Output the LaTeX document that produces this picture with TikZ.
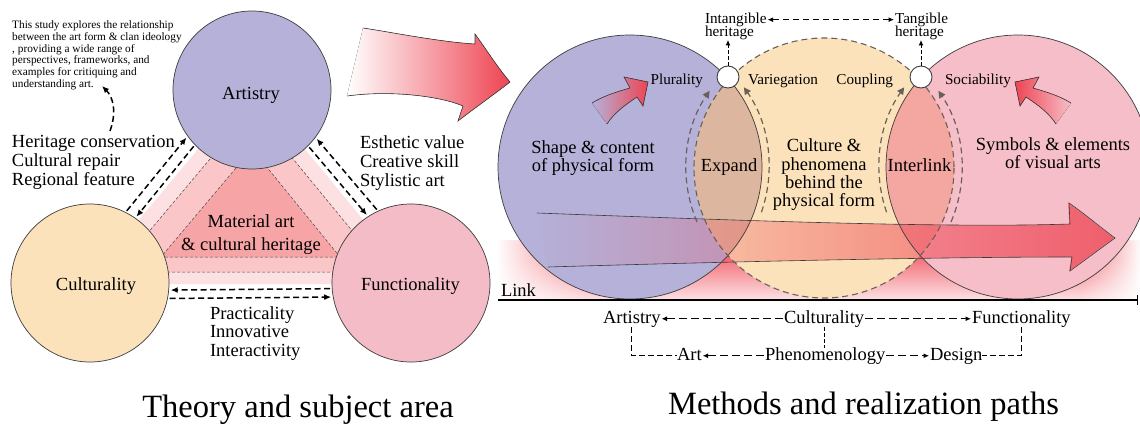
\documentclass[tikz,border=0pt]{standalone}
\usepackage{fontspec}
\setmainfont{Liberation Serif}
\usetikzlibrary{arrows.meta,fadings,calc}
\definecolor{cPur}{RGB}{181,177,217}
\definecolor{cOra}{RGB}{252,226,187}
\definecolor{cPnk}{RGB}{246,190,200}
\definecolor{cExp}{RGB}{221,182,160}
\definecolor{cInt}{RGB}{244,166,160}
\definecolor{cFun}{RGB}{244,188,198}
\definecolor{bandA}{RGB}{253,224,225}
\definecolor{bandB}{RGB}{250,198,199}
\definecolor{bandC}{RGB}{247,164,167}
\definecolor{aRed}{RGB}{238,68,82}
\definecolor{dashG}{RGB}{105,96,88}
\definecolor{glowR}{RGB}{242,96,106}
\definecolor{glowL}{RGB}{252,226,229}
\definecolor{edgeC}{RGB}{60,60,60}
\tikzfading[name=fadeR, left color=transparent!100, right color=transparent!0]
\tikzfading[name=fadeL, left color=transparent!0, right color=transparent!100]
\pgfdeclareverticalshading{glowsh}{100bp}{color(0bp)=(glowL); color(25bp)=(glowL); color(58bp)=(glowR!85!white); color(72bp)=(glowR); color(100bp)=(white)}
\begin{document}
\begin{tikzpicture}[x=1pt,y=-1pt,
  txt/.style={font=\fontsize{18.5}{19}\selectfont, inner sep=0pt, outer sep=0pt},
  sml/.style={font=\fontsize{15.2}{13.4}\selectfont, inner sep=0pt, outer sep=0pt},
  captxt/.style={font=\fontsize{32.5}{34}\selectfont, inner sep=0pt},
  para/.style={font=\fontsize{11.3}{11.7}\selectfont, inner sep=0pt, align=left},
  bot/.style={txt, text height=12.5pt, text depth=4pt},
  thickdash/.style={line width=1.5pt, dash pattern=on 6pt off 3.5pt, black},
  tipk/.style={-{Latex[length=7pt,width=6pt]}},
  tipb/.style={-{Latex[length=5.5pt,width=5pt]}},
  botdash/.style={line width=1pt, dash pattern=on 8pt off 4pt, black},
  banddash/.style={line width=0.5pt, dash pattern=on 3pt off 2pt, draw=black!70},
  arcdash/.style={line width=1.2pt, dash pattern=on 6pt off 4pt, dashG, -{Triangle[length=7pt,width=7pt]}},
  rim/.style={line width=0.7pt, draw=edgeC},
  bigc/.style={circle, minimum size=158pt, inner sep=0pt, outer sep=2pt, rim},
]
\useasboundingbox (0,0) rectangle (1140,423);
\fill[white] (0,0) rectangle (1140,423);

% ---------------- left part ----------------
\fill[bandA] (252,85) -- (85,284) -- (416,284) -- cycle;
\filldraw[fill=bandB, banddash] (252,109) -- (115,272) -- (386,272) -- cycle;
\filldraw[fill=bandC, banddash] (252,149) -- (161,257) -- (340,257) -- cycle;

\node[bigc, fill=cPur] (A) at (252,90) {};
\node[bigc, fill=cOra] (C) at (90,283) {};
\node[bigc, fill=cFun] (F) at (411,283) {};

\node[txt, anchor=base] (Alab) at (251,99.3) {Artistry};
\node[txt, anchor=base] (Clab) at (96,290.7) {Culturality};
\node[txt, anchor=base] (Flab) at (410.5,290.7) {Functionality};

\node[txt, align=center, anchor=north, font=\fontsize{18.5}{22.5}\selectfont] (mat) at (251,214.7) {Material art\\\& cultural heritage};
\node[txt, align=left, anchor=north west] (her) at (12,135.5) {Heritage conservation\\Cultural repair\\Regional feature};
\node[txt, align=left, anchor=north west] (est) at (360,135.5) {Esthetic value\\Creative skill\\Stylistic art};
\node[txt, align=left, anchor=north west, font=\fontsize{18.5}{18.5}\selectfont] (pra) at (210,306.4) {Practicality\\Innovative\\Interactivity};
\node[para, anchor=north west] (par) at (12,20.8) {This study explores the relationship\\between the art form \& clan ideology\\, providing a wide range of\\perspectives, frameworks, and\\examples for critiquing and\\understanding art.};

\draw[thickdash, tipk] (C.63.6) -- (A.216.4);
\draw[thickdash, tipk] (A.224.4) -- (C.55.6);
\draw[thickdash, tipk] (F.115.9) -- (A.323.1);
\draw[thickdash, tipk] (A.315.2) -- (F.123.8);
\draw[thickdash, tipk] (F.184.2) -- (C.355.8);
\draw[thickdash, tipk] (C.349.3) -- (F.190.7);

\coordinate (hcS) at (110,131);
\coordinate (hcE) at (102,86);
\draw[thickdash, tipk] (hcS) .. controls (117,112) and (113,97) .. (hcE);

\node[captxt, anchor=base] (cap1) at (298,417) {Theory and subject area};

% ---------------- connecting arrow ----------------
\fill[left color=white, right color=aRed]
  (363,28) .. controls (390,32) and (440,42) .. (475,44) -- (475,34)
  .. controls (488,52) and (498,68) .. (510,82)
  .. controls (492,96) and (472,110) .. (458,121) -- (463,106)
  .. controls (440,96) and (390,90) .. (347,96) -- cycle;
\draw[rim, line width=0.6pt]
  (363,28) .. controls (390,32) and (440,42) .. (475,44) -- (475,34)
  .. controls (488,52) and (498,68) .. (510,82)
  .. controls (492,96) and (472,110) .. (458,121) -- (463,106)
  .. controls (440,96) and (390,90) .. (347,96);

% ---------------- right part ----------------
\coordinate (pc) at (630,167);
\coordinate (oc) at (824,168);
\coordinate (kc) at (1018,167);

\fill[shading=glowsh] (498,240) rectangle (1140,300);
\fill[white, path fading=fadeL] (497,238) rectangle (592,301);
\fill[white, path fading=fadeR] (1080,238) rectangle (1141,301);

\fill[cPur] (pc) circle[radius=132];
\fill[cPnk] (kc) circle[radius=132];
\fill[cOra] (oc) circle[radius=130];
\begin{scope}
  \clip (pc) circle[radius=132];
  \fill[cExp] (oc) circle[radius=130];
\end{scope}
\begin{scope}
  \clip (kc) circle[radius=132];
  \fill[cInt] (oc) circle[radius=130];
\end{scope}

% big horizontal arrow
\fill[aRed, path fading=fadeR, fill opacity=0.78]
  (537,213) .. controls (750,221) and (950,228) .. (1070,224) -- (1069,203)
  .. controls (1085,214) and (1100,227) .. (1115,238)
  .. controls (1100,249) and (1085,260) .. (1070,271) -- (1072,257)
  .. controls (950,257) and (750,261) .. (548,267) -- cycle;
\draw[rim, line width=0.6pt]
  (537,213) .. controls (750,221) and (950,228) .. (1070,224) -- (1069,203)
  .. controls (1085,214) and (1100,227) .. (1115,238)
  .. controls (1100,249) and (1085,260) .. (1070,271) -- (1072,257)
  .. controls (950,257) and (750,261) .. (548,267);

\draw[rim] (pc) circle[radius=132];
\draw[rim] (kc) circle[radius=132];
\draw[dashG, line width=1.1pt, dash pattern=on 6pt off 4pt] (oc) circle[radius=130];

\draw[arcdash] ($(oc)+(-203:138)$) arc[start angle=-203, end angle=-146, radius=138];
\draw[arcdash] ($(pc)+(19:139)$) arc[start angle=19, end angle=-35, radius=139];
\draw[arcdash] ($(kc)+(-199:139)$) arc[start angle=-199, end angle=-145, radius=139];
\draw[arcdash] ($(oc)+(23:138)$) arc[start angle=23, end angle=-34, radius=138];

% small curved arrows
\fill[left color=cPur, right color=aRed]
  (592,103) .. controls (605,95) and (620,91) .. (630,88) -- (624,77) -- (648,82) -- (643,106) -- (637,97)
  .. controls (625,105) and (614,113) .. (607,124) -- cycle;
\draw[rim, line width=0.6pt]
  (592,103) .. controls (605,95) and (620,91) .. (630,88) -- (624,77) -- (648,82) -- (643,106) -- (637,97)
  .. controls (625,105) and (614,113) .. (607,124);
\fill[left color=aRed, right color=cPnk]
  (1071,103) .. controls (1058,95) and (1043,91) .. (1033,88) -- (1039,77) -- (1015,82) -- (1020,106) -- (1026,97)
  .. controls (1038,105) and (1049,113) .. (1056,124) -- cycle;
\draw[rim, line width=0.6pt]
  (1071,103) .. controls (1058,95) and (1043,91) .. (1033,88) -- (1039,77) -- (1015,82) -- (1020,106) -- (1026,97)
  .. controls (1038,105) and (1049,113) .. (1056,124);

\node[circle, draw=edgeC, fill=white, line width=0.9pt, minimum size=22pt, inner sep=0pt] (w1) at (728,77) {};
\node[circle, draw=edgeC, fill=white, line width=0.9pt, minimum size=22pt, inner sep=0pt] (w2) at (921,77) {};

\node[sml, anchor=base east] (plu) at (703,84) {Plurality};
\node[sml, anchor=base west] (var) at (748,84) {Variegation};
\node[sml, anchor=base east] (cou) at (893,84) {Coupling};
\node[sml, anchor=base west] (soc) at (945,84) {Sociability};
\node[sml, anchor=base west] (ih1) at (705,23.3) {Intangible};
\node[sml, anchor=base west] (ih2) at (705,36.7) {heritage};
\node[sml, anchor=base west] (th1) at (895,23.3) {Tangible};
\node[sml, anchor=base west] (th2) at (895,36.7) {heritage};

\draw[line width=1pt, dash pattern=on 4pt off 2pt, tipb] (w1.north) -- (w1.north |- ih2.south);
\draw[line width=1pt, dash pattern=on 4pt off 2pt, tipb] (w2.north) -- (w2.north |- th2.south);
\draw[line width=1pt, dash pattern=on 6pt off 4pt, {Latex[length=5.5pt,width=5pt]}-{Latex[length=5.5pt,width=5pt]}, shorten <=1pt, shorten >=1pt] (ih1.east) -- (th1.west);

\node[txt, align=center, anchor=north, font=\fontsize{18.5}{18.4}\selectfont] (shp) at (593,140.7) {Shape \& content\\of physical form};
\node[txt, anchor=base] (exp) at (729,171.7) {Expand};
\node[txt, align=center, anchor=north, font=\fontsize{18.5}{18.3}\selectfont] (cul) at (824,139.1) {Culture \&\\phenomena\\behind the\\physical form};
\node[txt, anchor=base] (itl) at (919.5,171.7) {Interlink};
\node[txt, align=center, anchor=north, font=\fontsize{18.5}{18.4}\selectfont] (sym) at (1053,137.4) {Symbols \& elements\\of visual arts};

% axis
\coordinate (axL) at (498,300);
\coordinate (axR) at (1138,300);
\draw[line width=1.4pt, -{Bar[width=10pt]}] (axL) -- (axR);
\node[txt, anchor=base west] (lnk) at (501,296) {Link};

\node[bot, anchor=base west] (bA) at (603,323) {Artistry};
\node[bot, anchor=base west] (bC) at (784,323) {Culturality};
\node[bot, anchor=base west] (bF) at (972,323) {Functionality};
\node[bot, anchor=base west] (bArt) at (677,360) {Art};
\node[bot, anchor=base west] (bPh) at (765,360) {Phenomenology};
\node[bot, anchor=base west] (bDe) at (930,360) {Design};

\draw[botdash, tipb, shorten >=1pt, shorten <=1pt] (bC.west) -- (bA.east);
\draw[botdash, tipb, shorten >=1pt, shorten <=1pt] (bC.east) -- (bF.west);
\draw[botdash, tipb, shorten >=1pt, shorten <=1pt] (bPh.west) -- (bArt.east);
\draw[botdash, tipb, shorten >=1pt, shorten <=1pt] (bPh.east) -- (bDe.west);
\draw[botdash, dash pattern=on 6pt off 3pt] (bA.south) |- (bArt.west);
\draw[botdash, dash pattern=on 6pt off 3pt] (bF.south) |- (bDe.east);
\draw[botdash, dash pattern=on 4pt off 2pt] (bC.south) -- (bC.south |- bPh.north);

\node[captxt, anchor=base] (cap2) at (863.5,414) {Methods and realization paths};
\end{tikzpicture}
\end{document}
